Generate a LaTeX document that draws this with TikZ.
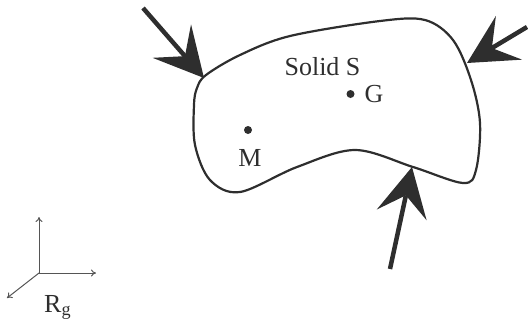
\documentclass[tikz,border=0pt]{standalone}
\usepackage{fontspec}
\setmainfont{Liberation Serif}
\usetikzlibrary{arrows.meta}
\definecolor{ink}{HTML}{2E2E2E}
\definecolor{axis}{HTML}{555555}
\tikzset{
  force/.style={draw=ink, line width=4.5bp,
    -{Stealth[length=49bp,width=51bp,inset=20bp,line width=0pt]}},
  axisline/.style={draw=axis, line width=1bp, -{To[length=5bp,width=7bp]}},
  outline/.style={draw=ink, line width=2.2bp},
  lbl/.style={font=\fontsize{26bp}{31bp}\selectfont, text=ink, inner sep=0pt},
  pt/.style={circle, fill=ink, inner sep=0pt, minimum size=8bp}
}
\begin{document}
\begin{tikzpicture}[x=1bp,y=-1bp]
\useasboundingbox (0,0) rectangle (528,323);
% solid outline
\draw[outline] plot[smooth cycle, tension=0.55] coordinates {
  (206,75) (240,55) (290,36) (380,21) (425,20) (453,40) (471,80) (480,123)
  (476,170) (463,183) (413,167) (355,150) (297,167) (240,192)
  (210,180) (195,145) (194,105) (197,88)};
% points and labels
\node[pt] (G) at (350.5,94) {};
\node[pt] (M) at (248,130) {};
\node[lbl, anchor=base] (S) at (322.5,75) {Solid S};
\node[lbl, anchor=base] (Glbl) at (374,102) {G};
\node[lbl, anchor=base] (Mlbl) at (250,166) {M};
% forces
\coordinate (t1) at (143,8);   \coordinate (p1) at (204,78);
\coordinate (t2) at (527,27);  \coordinate (p2) at (467,63);
\coordinate (t3) at (390,269); \coordinate (p3) at (412,167);
\draw[force] (t1) -- (p1);
\draw[force] (t2) -- (p2);
\draw[force] (t3) -- (p3);
% reference frame
\coordinate (O) at (39,273);
\coordinate (ey) at (39,217);
\coordinate (ex) at (96,273);
\coordinate (ez) at (7,298);
\draw[axisline] (O) -- (ey);
\draw[axisline] (O) -- (ex);
\draw[axisline] (O) -- (ez);
\node[lbl, anchor=base west] (R) at (44,312) {R\textsubscript{g}};
\end{tikzpicture}
\end{document}
